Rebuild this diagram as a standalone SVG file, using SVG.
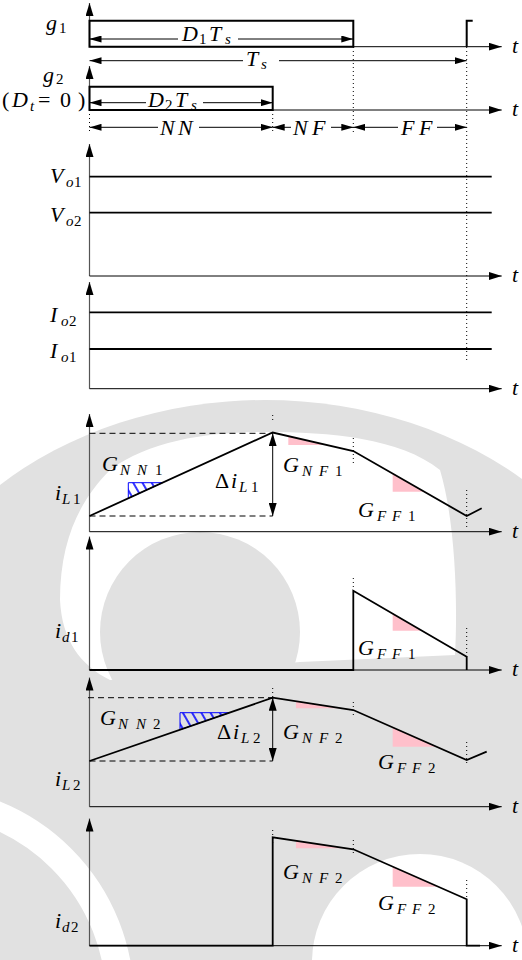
<svg xmlns="http://www.w3.org/2000/svg" width="522" height="960" viewBox="0 0 522 960">
<defs>
<marker id="ax" viewBox="0 0 13 8" refX="13" refY="4" markerWidth="13" markerHeight="8" markerUnits="userSpaceOnUse" orient="auto-start-reverse"><path d="M0,0 L13,4 L0,8 Z" fill="#000"/></marker>
<marker id="dm" viewBox="0 0 12 7" refX="12" refY="3.5" markerWidth="12" markerHeight="7" markerUnits="userSpaceOnUse" orient="auto-start-reverse"><path d="M0,0 L12,3.5 L0,7 Z" fill="#000"/></marker>
<pattern id="hatch" width="8" height="8" patternUnits="userSpaceOnUse" patternTransform="rotate(-30)"><line x1="2" y1="0" x2="2" y2="8" stroke="#0000ff" stroke-width="1.6"/></pattern>
</defs>
<style>
.t{font-family:"Liberation Serif","DejaVu Serif",serif;font-style:italic;font-size:22px;fill:#000}
.s{font-size:15px}
.u{font-style:normal}
.ax{stroke:#000;stroke-width:1;fill:none}
.va{stroke:#555;stroke-width:1.2;fill:none}
.w{stroke:#000;stroke-width:1.8;fill:none}
.dash{stroke:#000;stroke-width:1;stroke-dasharray:6 4;fill:none}
.dot{stroke:#000;stroke-width:1;stroke-dasharray:1 3;fill:none}
.dim{stroke:#000;stroke-width:1;fill:none}
.pk{fill:#ffc0cb}
.hz{fill:url(#hatch);stroke:#0000ff;stroke-width:1}
.wm{fill:#e1e1e1}
</style>
<rect width="522" height="960" fill="#fff"/>
<g id="watermark">
<ellipse class="wm" cx="265" cy="700" rx="380" ry="300"/>
<rect class="wm" x="0" y="690" width="522" height="270"/>
<path fill="#fff" d="M110,470 C150,440 210,432 265,432 C330,432 400,438 440,470 C455,520 458,600 455,655 L300,662 L110,680 C80,665 62,640 60,600 C60,540 80,500 110,470 Z"/>
<circle class="wm" cx="200" cy="632" r="100"/>
<circle cx="420" cy="962" r="108" fill="#fff"/>
<circle cx="-80" cy="1000" r="200" fill="none" stroke="#fff" stroke-width="28"/>
</g>
<g id="gates">
<path class="va" d="M89.5,46.7 V3" marker-end="url(#ax)"/>
<path class="ax" d="M89.5,46.7 H501.7" marker-end="url(#ax)"/>
<path d="M89.5,46.7 V20.7 H353.3 V46.7 Z" stroke="#000" stroke-width="2" fill="none"/>
<path d="M466.7,46.7 V20.7 H472.7" stroke="#000" stroke-width="2" fill="none"/>
<path class="dim" d="M89.5,39 H178" marker-start="url(#dm)"/>
<path class="dim" d="M238,39 H353.3" marker-end="url(#dm)"/>
<path class="dim" d="M89.5,60.7 H243" marker-start="url(#dm)"/>
<path class="dim" d="M279,60.7 H466.7" marker-end="url(#dm)"/>
<path class="va" d="M89.5,110 V66" marker-end="url(#ax)"/>
<path class="ax" d="M89.5,110 H501.7" marker-end="url(#ax)"/>
<path d="M89.5,110 V86.7 H272.7 V110 Z" stroke="#000" stroke-width="2" fill="none"/>
<path class="dim" d="M89.5,102.7 H146" marker-start="url(#dm)"/>
<path class="dim" d="M203,102.7 H272.7" marker-end="url(#dm)"/>
<path class="dim" d="M89.5,127.3 H158" marker-start="url(#dm)"/>
<path class="dim" d="M199,127.3 H272.7" marker-end="url(#dm)"/>
<path class="dim" d="M272.7,127.3 H291" marker-start="url(#dm)"/>
<path class="dim" d="M331,127.3 H353.3" marker-end="url(#dm)"/>
<path class="dim" d="M353.3,127.3 H398" marker-start="url(#dm)"/>
<path class="dim" d="M437,127.3 H466.7" marker-end="url(#dm)"/>
<text class="t"><tspan x="46" y="29.5">g</tspan><tspan class="s u" x="59" y="33">1</tspan></text>
<text class="t"><tspan x="182" y="40.5">D</tspan><tspan class="s u" x="199" y="44">1</tspan><tspan x="209" y="40.5">T</tspan><tspan class="s" x="225" y="44">s</tspan></text>
<text class="t"><tspan x="246" y="66">T</tspan><tspan class="s" x="261" y="69">s</tspan></text>
<text class="t"><tspan x="43" y="82">g</tspan><tspan class="s u" x="56" y="84">2</tspan></text>
<text class="t"><tspan class="u" x="2" y="107">(</tspan><tspan x="12" y="107">D</tspan><tspan class="s" x="30" y="110.5">t</tspan><tspan class="u" x="38" y="107">=</tspan><tspan class="u" x="60" y="107">0</tspan><tspan class="u" x="78" y="107">)</tspan></text>
<text class="t"><tspan x="148" y="106.5">D</tspan><tspan class="s u" x="165" y="110">2</tspan><tspan x="175" y="106.5">T</tspan><tspan class="s" x="191" y="110">s</tspan></text>
<text class="t" y="135"><tspan x="160">N</tspan><tspan x="178">N</tspan></text>
<text class="t" y="135"><tspan x="293">N</tspan><tspan x="312">F</tspan></text>
<text class="t" y="135"><tspan x="401">F</tspan><tspan x="419">F</tspan></text>
<text class="t" x="512" y="53">t</text>
<text class="t" x="512" y="116">t</text>
</g>
<g id="guides">
<path class="dot" d="M353.3,47 V135 M466.7,47 V362 M272.7,110 V132 M89.5,110 V132"/>
<path class="dot" d="M272.7,415 V423 M353.3,438 V463 M466.7,490 V527"/>
<path class="dot" d="M353.3,578 V588 M466.7,628 V657"/>
<path class="dot" d="M272.7,688 V697 M353.3,702 V718 M466.7,742 V766"/>
<path class="dot" d="M272.7,830 V846 M353.3,840 V856 M466.7,880 V898"/>
</g>
<g id="vo">
<path class="va" d="M89.5,276 V144" marker-end="url(#ax)"/>
<path class="ax" d="M89.5,276 H501.7" marker-end="url(#ax)"/>
<path class="w" d="M89.5,176.7 H491.7 M89.5,212.7 H491.7"/>
<text class="t"><tspan x="50" y="183">V</tspan><tspan class="s" x="66" y="187">o</tspan><tspan class="s u" x="74" y="187">1</tspan></text>
<text class="t"><tspan x="50" y="221.5">V</tspan><tspan class="s" x="66" y="225.5">o</tspan><tspan class="s u" x="74" y="225.5">2</tspan></text>
<text class="t" x="512" y="282">t</text>
</g>
<g id="io">
<path class="va" d="M89.5,388.7 V282" marker-end="url(#ax)"/>
<path class="ax" d="M89.5,388.7 H501.7" marker-end="url(#ax)"/>
<path class="w" d="M89.5,312.3 H491.7 M89.5,349 H491.7"/>
<text class="t"><tspan x="50" y="321.5">I</tspan><tspan class="s" x="61" y="325.5">o</tspan><tspan class="s u" x="69" y="325.5">2</tspan></text>
<text class="t"><tspan x="50" y="358">I</tspan><tspan class="s" x="61" y="362">o</tspan><tspan class="s u" x="69" y="362">1</tspan></text>
<text class="t" x="512" y="395">t</text>
</g>
<g id="il1">
<polygon class="pk" points="288.3,436.1 288.3,445 327.2,445"/>
<polygon class="pk" points="392.7,473.6 392.7,491.7 424.3,491.7"/>
<polygon class="hz" points="128.3,482.7 128.3,498.3 162.6,482.7"/>
<path class="va" d="M89.5,531.7 V414" marker-end="url(#ax)"/>
<path class="ax" d="M89.5,531.7 H501.7" marker-end="url(#ax)"/>
<path class="dash" d="M89.5,433.3 H272.7 M89.5,516 H272.7"/>
<path class="dim" d="M272.7,433.3 V516" marker-start="url(#ax)" marker-end="url(#ax)"/>
<path class="w" d="M89.5,516 L272.7,432.5 L353.3,451 L466.7,516 L481.7,508.3"/>
<text class="t"><tspan x="55" y="500">i</tspan><tspan class="s" x="62" y="504">L</tspan><tspan class="s u" x="73" y="504">1</tspan></text>
<text class="t"><tspan x="102" y="470.5">G</tspan><tspan class="s" x="120" y="474.5">N</tspan><tspan class="s" x="137" y="474.5">N</tspan><tspan class="s u" x="155" y="474.5">1</tspan></text>
<text class="t"><tspan class="u" x="215" y="487.5">Δ</tspan><tspan x="231" y="487.5">i</tspan><tspan class="s" x="239" y="491.5">L</tspan><tspan class="s u" x="251" y="491.5">1</tspan></text>
<text class="t"><tspan x="283" y="471.5">G</tspan><tspan class="s" x="302" y="475.5">N</tspan><tspan class="s" x="319" y="475.5">F</tspan><tspan class="s u" x="335" y="475.5">1</tspan></text>
<text class="t"><tspan x="358" y="516.5">G</tspan><tspan class="s" x="377" y="520.5">F</tspan><tspan class="s" x="392" y="520.5">F</tspan><tspan class="s u" x="408" y="520.5">1</tspan></text>
<text class="t" x="512" y="538">t</text>
</g>
<g id="id1">
<polygon class="pk" points="392.7,613.6 392.7,630.7 422,630.7"/>
<path class="va" d="M89.5,670 V536.5" marker-end="url(#ax)"/>
<path class="ax" d="M89.5,670 H501.7" marker-end="url(#ax)"/>
<path class="w" d="M89.5,670 H353.3 V590.7 L466.7,656.7 V670"/>
<text class="t"><tspan x="55" y="638">i</tspan><tspan class="s" x="62" y="642">d</tspan><tspan class="s u" x="71" y="642">1</tspan></text>
<text class="t"><tspan x="358" y="655">G</tspan><tspan class="s" x="377" y="659">F</tspan><tspan class="s" x="392" y="659">F</tspan><tspan class="s u" x="408" y="659">1</tspan></text>
<text class="t" x="512" y="676">t</text>
</g>
<g id="il2">
<polygon class="pk" points="296,701.3 296,708.3 342.2,708.3"/>
<polygon class="pk" points="392.7,727.4 392.7,746.7 436.5,746.7"/>
<polygon class="hz" points="180,712.7 180,729.7 229.3,712.7"/>
<path class="va" d="M89.5,806.7 V677.5" marker-end="url(#ax)"/>
<path class="ax" d="M89.5,806.7 H501.7" marker-end="url(#ax)"/>
<path class="dash" d="M88,697.7 H272.7 M89.5,761 H272.7"/>
<path class="dim" d="M272.7,697.7 V761" marker-start="url(#ax)" marker-end="url(#ax)"/>
<path class="w" d="M89.5,761 L272.7,697.7 L353.3,710 L466.7,760 L486.7,751.7"/>
<text class="t"><tspan x="100" y="725">G</tspan><tspan class="s" x="118" y="729">N</tspan><tspan class="s" x="136" y="729">N</tspan><tspan class="s u" x="153" y="729">2</tspan></text>
<text class="t"><tspan class="u" x="217" y="738.5">Δ</tspan><tspan x="233" y="738.5">i</tspan><tspan class="s" x="241" y="742.5">L</tspan><tspan class="s u" x="253" y="742.5">2</tspan></text>
<text class="t"><tspan x="283" y="738.5">G</tspan><tspan class="s" x="302" y="742.5">N</tspan><tspan class="s" x="319" y="742.5">F</tspan><tspan class="s u" x="335" y="742.5">2</tspan></text>
<text class="t"><tspan x="378" y="768.5">G</tspan><tspan class="s" x="397" y="772.5">F</tspan><tspan class="s" x="412" y="772.5">F</tspan><tspan class="s u" x="428" y="772.5">2</tspan></text>
<text class="t"><tspan x="55" y="786">i</tspan><tspan class="s" x="62" y="790">L</tspan><tspan class="s u" x="73" y="790">2</tspan></text>
<text class="t" x="512" y="813">t</text>
</g>
<g id="id2">
<polygon class="pk" points="296,840.8 296,848.3 346.7,848.3"/>
<polygon class="pk" points="392.7,866.7 392.7,886.7 438,886.7"/>
<path class="va" d="M89.5,945.7 V818.5" marker-end="url(#ax)"/>
<path class="ax" d="M89.5,945.7 H501.7" marker-end="url(#ax)"/>
<path class="w" d="M89.5,945.7 H272.7 V837.3 L353.3,849.3 L466.7,899.3 V945.7 H480"/>
<text class="t"><tspan x="283" y="878.5">G</tspan><tspan class="s" x="302" y="882.5">N</tspan><tspan class="s" x="319" y="882.5">F</tspan><tspan class="s u" x="335" y="882.5">2</tspan></text>
<text class="t"><tspan x="378" y="910">G</tspan><tspan class="s" x="397" y="914">F</tspan><tspan class="s" x="412" y="914">F</tspan><tspan class="s u" x="428" y="914">2</tspan></text>
<text class="t"><tspan x="55" y="928">i</tspan><tspan class="s" x="62" y="932">d</tspan><tspan class="s u" x="71" y="932">2</tspan></text>
<text class="t" x="512" y="952">t</text>
</g>
</svg>
